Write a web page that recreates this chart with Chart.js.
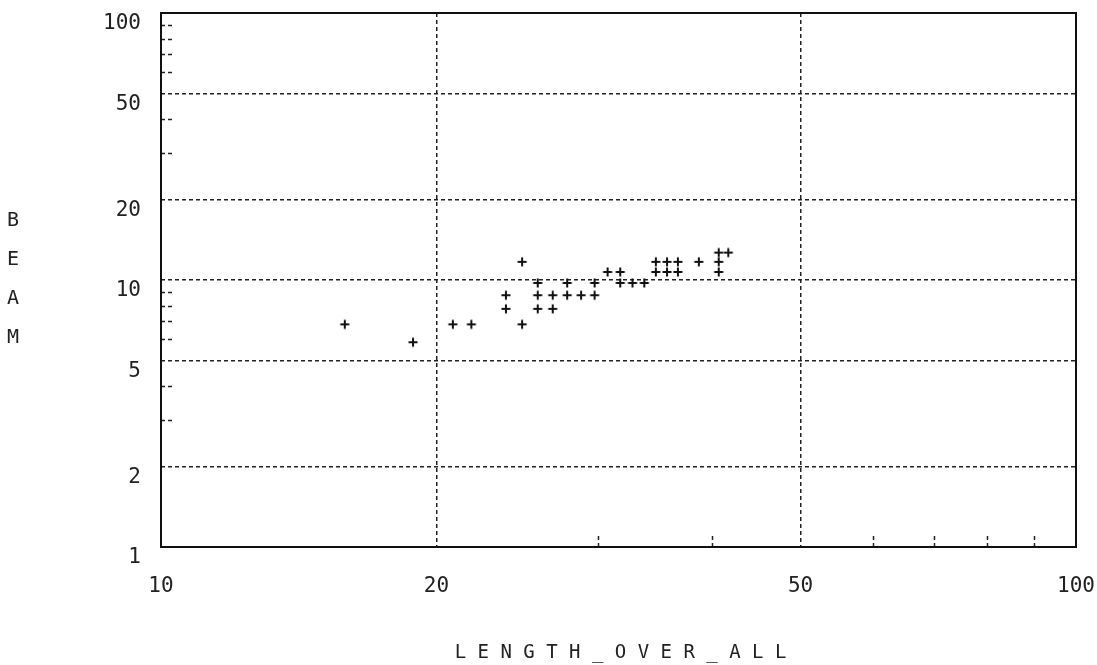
<!DOCTYPE html>
<html>
<head>
<meta charset="utf-8">
<script src="https://cdn.jsdelivr.net/npm/chart.js@4"></script>
<style>
  html, body { margin: 0; padding: 0; background: #fff; }
  #wrap { width: 1097px; height: 665px; position: relative; }
</style>
</head>
<body>
<div id="wrap"><canvas id="c" width="1097" height="665"></canvas></div>
<script>
// ---- data ----
const lengthOverAll = [16,19,21,22,24,24,25,25,26,26,26,27,27,28,28,29,30,30,31,32,32,33,34,35,35,36,36,37,37,39,41,41,41,42];
const beam          = [ 7, 6, 7, 7, 9, 8,12, 7,10, 9, 8, 9, 8,10, 9, 9,10, 9,11,11,10,10,10,12,11,12,11,12,11,12,13,12,11,13];

const xLabelTicks = [10, 20, 50, 100];
const xMinorTicks = [30, 40, 60, 70, 80, 90];
const yLabelTicks = [1, 2, 5, 10, 20, 50, 100];
const yMinorTicks = [3, 4, 6, 7, 8, 9, 30, 40, 60, 70, 80, 90];
const xTitle = 'L E N G T H _ O V E R _ A L L';
const yTitle = ['B', 'E', 'A', 'M'];

const FONT = '"DejaVu Sans Mono", "Liberation Mono", monospace';
const INK = '#222';

// plus marker (drawn slightly off-centre, like the character-cell plotter)
const marker = document.createElement('canvas');
marker.width = 24; marker.height = 24;
(function () {
  const g = marker.getContext('2d');
  const cx = 9, cy = 15, r = 4.5;
  g.strokeStyle = '#111';
  g.lineWidth = 2;
  g.beginPath();
  g.moveTo(cx - r, cy); g.lineTo(cx + r, cy);
  g.moveTo(cx, cy - r); g.lineTo(cx, cy + r);
  g.stroke();
})();

const points = lengthOverAll.map((x, i) => ({ x: x, y: beam[i] }));

const zeroPad = s => { s.paddingLeft = 0; s.paddingRight = 0; s.paddingTop = 0; s.paddingBottom = 0; };

const decor = {
  id: 'decor',
  beforeDatasetsDraw(chart) {
    const ctx = chart.ctx, a = chart.chartArea;
    const xs = chart.scales.x, ys = chart.scales.y;
    ctx.save();
    ctx.strokeStyle = INK;
    ctx.lineWidth = 1.5;
    ctx.setLineDash([4, 3]);
    yMinorTicks.forEach(v => {
      const py = Math.round(ys.getPixelForValue(v)) + 0.5;
      ctx.beginPath();
      ctx.moveTo(a.left, py); ctx.lineTo(a.left + 12, py);
      ctx.stroke();
    });
    xMinorTicks.forEach(v => {
      const px = Math.round(xs.getPixelForValue(v)) + 0.5;
      ctx.beginPath();
      ctx.moveTo(px, a.bottom); ctx.lineTo(px, a.bottom - 12);
      ctx.stroke();
    });
    ctx.restore();
  },
  afterDraw(chart) {
    const ctx = chart.ctx, a = chart.chartArea;
    ctx.save();
    ctx.strokeStyle = '#111';
    ctx.lineWidth = 2;
    ctx.strokeRect(a.left, a.top, a.right - a.left, a.bottom - a.top);
    ctx.fillStyle = INK;
    ctx.textAlign = 'center';
    ctx.textBaseline = 'middle';
    ctx.font = '19px ' + FONT;
    ctx.fillText(xTitle, (a.left + a.right) / 2 + 2, 653);
    ctx.font = '20px ' + FONT;
    yTitle.forEach((ch, i) => ctx.fillText(ch, 13, 221 + i * 39));
    ctx.restore();
  }
};

new Chart(document.getElementById('c'), {
  type: 'scatter',
  data: {
    datasets: [{
      data: points,
      pointStyle: marker,
      pointRadius: 4,
      pointHoverRadius: 4,
      showLine: false
    }]
  },
  options: {
    responsive: false,
    animation: false,
    events: [],
    layout: { padding: { left: 0, right: 21, top: 13, bottom: 0 } },
    plugins: { legend: { display: false }, tooltip: { enabled: false } },
    scales: {
      x: {
        type: 'logarithmic',
        min: 10, max: 100,
        afterBuildTicks: s => { s.ticks = xLabelTicks.map(v => ({ value: v })); },
        afterFit: s => { s.height = 118; zeroPad(s); },
        grid: {
          drawTicks: false,
          lineWidth: 1.5,
          color: c => (c.tick && (c.tick.value === 20 || c.tick.value === 50)) ? INK : 'rgba(0,0,0,0)'
        },
        border: { display: false, dash: [4, 3] },
        ticks: {
          autoSkip: false, maxRotation: 0, minRotation: 0,
          padding: 27,
          color: INK,
          font: { family: FONT, size: 21 },
          callback: v => xLabelTicks.includes(v) ? String(v) : ''
        }
      },
      y: {
        type: 'logarithmic',
        min: 1, max: 100,
        afterBuildTicks: s => { s.ticks = yLabelTicks.map(v => ({ value: v })); },
        afterFit: s => { s.width = 161; zeroPad(s); },
        grid: {
          drawTicks: false,
          lineWidth: 1.5,
          color: c => (c.tick && [2, 5, 10, 20, 50].includes(c.tick.value)) ? INK : 'rgba(0,0,0,0)'
        },
        border: { display: false, dash: [4, 3] },
        ticks: {
          autoSkip: false,
          padding: 20,
          labelOffset: 11,
          color: INK,
          font: { family: FONT, size: 21 },
          callback: v => yLabelTicks.includes(v) ? String(v) : ''
        }
      }
    }
  },
  plugins: [decor]
});
</script>
</body>
</html>
